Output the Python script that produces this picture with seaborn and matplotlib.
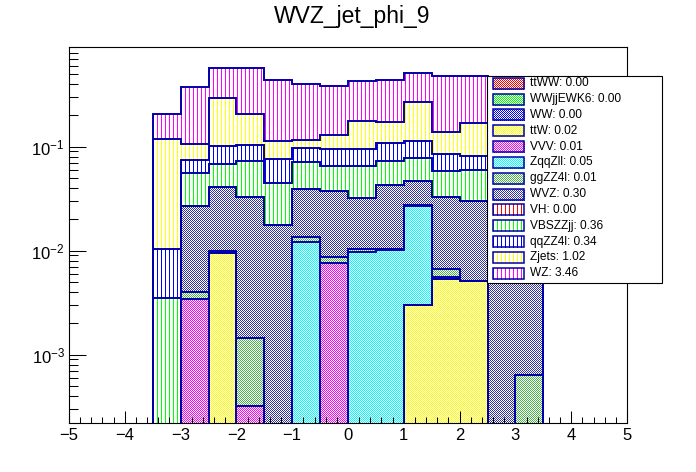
import numpy as np
import pandas as pd
import matplotlib
matplotlib.use("Agg")
import matplotlib.pyplot as plt
import matplotlib.colors as mcolors
import seaborn as sns
from matplotlib.patches import Rectangle
from matplotlib.ticker import MultipleLocator, LogLocator, NullFormatter

# histogram binning: 20 bins of 0.5 from -5 to 5, only -3.5..3.5 is filled
edges = np.arange(-5.0, 5.01, 0.5)

# per-process contents of the 14 filled bins (-3.5 ... 3.5)
# stack order: first entry is the bottom of the stack
ttWW = [0, 0, 0, 0, 0, 0, 0, 0, 0, 0, 0, 0, 0, 0]
WWjjEWK6 = [0, 0, 0, 0, 0, 0, 0, 0, 0, 0, 0, 0, 0, 0]
WW = [0, 0, 0, 0, 0, 0, 0, 0, 0, 0, 0, 0, 0, 0]
ttW = [0, 0, 0.0094, 0, 0, 0, 0, 0, 0, 0.00297, 0.00535, 0.00506, 0, 0]
VVV = [0, 0.00342, 0, 0.000318, 0, 0, 0.00753, 0, 0, 0, 0, 0, 0, 0]
ZqqZll = [0, 0, 0, 0, 0, 0.0120, 0, 0.0096, 0.0101, 0.0240, 0.00017, 0, 0, 0]
ggZZ4l = [0, 0.0006, 0.00055, 0.00111, 0, 0.0014, 0.00117, 0.0007, 0.0002, 0.0003, 0.00116, 0, 0, 0.00063]
WVZ = [0, 0.0228, 0.0309, 0.0313, 0.0176, 0.0253, 0.0286, 0.0217, 0.032, 0.0189, 0.026, 0.0246, 0.015, 0.006]
VH = [0, 0, 0, 0, 0, 0, 0, 0, 0, 0, 0, 0, 0, 0]
VBSZZjj = [0.00347, 0.0284, 0.0266, 0.0394, 0.0267, 0.0318, 0.0272, 0.0325, 0.0298, 0.0308, 0.0251, 0.0293, 0.02, 0.009]
qqZZ4l = [0.0068, 0.0184, 0.033, 0.0306, 0.031, 0.0256, 0.0295, 0.0295, 0.0353, 0.035, 0.0263, 0.0215, 0.012, 0.006]
Zjets = [0.1067, 0.0314, 0.1896, 0.1013, 0.0377, 0.0194, 0.034, 0.0806, 0.0636, 0.154, 0.0529, 0.0865, 0.045, 0.015]
WZ = [0.087, 0.266, 0.275, 0.361, 0.32, 0.2835, 0.254, 0.2494, 0.262, 0.240, 0.339, 0.309, 0.16, 0.054]

names = ["ttWW", "WWjjEWK6", "WW", "ttW", "VVV", "ZqqZll", "ggZZ4l",
         "WVZ", "VH", "VBSZZjj", "qqZZ4l", "Zjets", "WZ"]
series = [ttWW, WWjjEWK6, WW, ttW, VVV, ZqqZll, ggZZ4l,
          WVZ, VH, VBSZZjj, qqZZ4l, Zjets, WZ]
# yields printed in the legend
totals = [0.00, 0.00, 0.00, 0.02, 0.01, 0.05, 0.01, 0.30, 0.00, 0.36, 0.34, 1.02, 3.46]

# ROOT fill styles: "check" = 1px checker pattern, "lines" = 1px vertical lines
styles = {
    "ttWW": ("#ff0000", "check"),
    "WWjjEWK6": ("#00ff00", "check"),
    "WW": ("#0000ff", "check"),
    "ttW": ("#ffff00", "check"),
    "VVV": ("#ff00ff", "check"),
    "ZqqZll": ("#00ffff", "check"),
    "ggZZ4l": ("#4cb24c", "check"),
    "WVZ": ("#3333a0", "check"),
    "VH": ("#ff0000", "lines"),
    "VBSZZjj": ("#00ff00", "lines"),
    "qqZZ4l": ("#0000ff", "lines"),
    "Zjets": ("#ffff00", "lines"),
    "WZ": ("#ff00ff", "lines"),
}
navy = "#0000a8"

sns.set_theme(style="ticks")
plt.rcParams['font.family'] = ['Liberation Sans', 'DejaVu Sans']
plt.rcParams['mathtext.default'] = 'regular'

# build the table of bin contents and the cumulative stack
centers = edges[:-1] + 0.25
filled = (centers > -3.5) & (centers < 3.5)
table = pd.DataFrame(0.0, index=centers, columns=names)
for name, vals in zip(names, series):
    table.loc[filled, name] = vals
cum = table.cumsum(axis=1)

W, H = 696, 472
fig = plt.figure(figsize=(W / 100, H / 100), dpi=100)
fig.patch.set_facecolor("white")
ax = fig.add_axes([69 / W, 1 - 422.7 / H, (627 - 69) / W, (422.7 - 46.7) / H])
ax.patch.set_alpha(0)
ax.set_yscale("log")
ax.set_xlim(-5, 5)
ax.set_ylim(2.21e-4, 0.912)

# pixel fill patterns, drawn as figure images clipped to each stack band
yy, xx = np.mgrid[0:H, 0:W]
masks = {"check": (xx + yy) % 2 == 0, "lines": xx % 4 == 1}


def pattern(color, kind):
    rgba = np.full((H, W, 4), 255, dtype=np.uint8)
    rgb = (np.array(mcolors.to_rgb(color)) * 255).astype(np.uint8)
    rgba[masks[kind], :3] = rgb
    if kind == "lines":
        # gaps between hatch lines stay see-through
        rgba[..., :3] = rgb
        rgba[..., 3] = masks[kind] * 255
    return rgba


floor = 1e-6
prev = np.full(len(centers), floor)
for name in names:
    top = np.maximum(cum[name].values, floor)
    color, kind = styles[name]
    band = ax.stairs(top, edges, baseline=prev, fill=True, facecolor="none",
                     edgecolor="none", linewidth=0)
    if np.any(top > prev):
        im = fig.figimage(pattern(color, kind), xo=0, yo=0, zorder=-1)
        im.set_clip_box(ax.bbox)
        im.set_clip_path(band)
    prev = top

# outlines of every cumulative histogram, ROOT style
for name in names:
    top = np.maximum(cum[name].values, floor)
    ax.stairs(top, edges, baseline=floor, fill=False, color=navy, linewidth=1.4)

ax.xaxis.set_major_locator(MultipleLocator(1))
ax.xaxis.set_minor_locator(MultipleLocator(0.2))
ax.yaxis.set_major_locator(LogLocator(base=10))
ax.yaxis.set_minor_locator(LogLocator(base=10, subs=np.arange(2, 10)))
ax.yaxis.set_minor_formatter(NullFormatter())
ax.tick_params(which="both", direction="in", top=False, right=False,
               color="black", width=0.75, labelsize=12, labelcolor="black")
ax.tick_params(axis="x", which="major", length=8.6, pad=4)
ax.tick_params(axis="x", which="minor", length=4.3)
ax.tick_params(axis="y", which="major", length=12, pad=3)
ax.tick_params(axis="y", which="minor", length=6.5)
for sp in ax.spines.values():
    sp.set_visible(True)
    sp.set_color("black")
    sp.set_linewidth(0.8)

fig.text(352 / W, 1 - 23 / H, "WVZ_jet_phi_9", ha="center", va="baseline",
         fontsize=16.5, color="black")

# legend box
lx0, lx1, ly0, ly1 = 487.3, 661.7, 75.7, 283.3
fig.add_artist(Rectangle((lx0 / W, 1 - ly1 / H), (lx1 - lx0) / W, (ly1 - ly0) / H,
                         transform=fig.transFigure, facecolor="white",
                         edgecolor="black", linewidth=0.8, zorder=5))
for i, (name, tot) in enumerate(zip(names, totals)):
    yc = 83.3 + i * 15.83
    color, kind = styles[name]
    box = (493.3 / W, 1 - (yc + 5.5) / H)
    bw, bh = 31 / W, 11 / H
    clip = Rectangle(box, bw, bh, transform=fig.transFigure, facecolor="white",
                     edgecolor="none", zorder=6)
    fig.add_artist(clip)
    im = fig.figimage(pattern(color, kind), xo=0, yo=0, zorder=6.5)
    im.set_clip_path(clip)
    fig.add_artist(Rectangle(box, bw, bh, transform=fig.transFigure,
                             facecolor="none", edgecolor=navy, linewidth=1.1, zorder=7))
    fig.text(530 / W, 1 - yc / H, f"{name}: {tot:.2f}", ha="left", va="center",
             fontsize=8.6, color="black", zorder=8)

fig.savefig("out.png", dpi=100)
